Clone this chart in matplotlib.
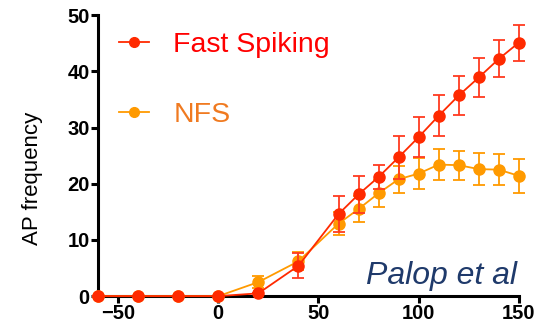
import matplotlib.pyplot as plt
from matplotlib.lines import Line2D

plt.rcParams['font.family'] = ['Liberation Sans', 'DejaVu Sans']

current = [-60, -40, -20, 0, 20, 40, 60, 70, 80, 90, 100, 110, 120, 130, 140, 150]

fs_mean = [0, 0, 0, 0, 0.5, 5.4, 14.6, 18.1, 21.2, 24.7, 28.3, 32.1, 35.7, 38.9, 42.2, 45.1]
fs_err = [0, 0, 0, 0, 0, 2.2, 3.2, 3.3, 2.1, 3.8, 3.6, 3.7, 3.4, 3.5, 3.3, 3.2]

nfs_mean = [0, 0, 0, 0, 2.5, 6.2, 12.9, 15.5, 18.3, 20.8, 21.8, 23.4, 23.3, 22.6, 22.5, 21.4]
nfs_err = [0, 0, 0, 0, 1.1, 1.6, 2.1, 2.3, 2.4, 2.4, 2.7, 2.7, 2.6, 2.9, 2.8, 3.0]

red = '#ff2a00'
orange = '#ff9a00'

fig = plt.figure(figsize=(5.36, 3.35), dpi=100)
ax = fig.add_axes([0.183, 0.116, 0.785, 0.839])

ax.errorbar(current, nfs_mean, yerr=nfs_err, color=orange, ecolor=orange,
            marker='o', markersize=8, linewidth=1.3, elinewidth=1.3,
            capsize=4.5, capthick=1.3, clip_on=False, zorder=3)
ax.errorbar(current, fs_mean, yerr=fs_err, color=red, ecolor='#ff3a20',
            marker='o', markersize=8, linewidth=1.3, elinewidth=1.3,
            capsize=4.5, capthick=1.3, clip_on=False, zorder=4)

ax.set_xlim(-60, 150)
ax.set_ylim(0, 50)
ax.set_xticks([-50, 0, 50, 100, 150])
ax.set_yticks([0, 10, 20, 30, 40, 50])

for s in ['top', 'right']:
    ax.spines[s].set_visible(False)
for s in ['left', 'bottom']:
    ax.spines[s].set_linewidth(2.2)
ax.tick_params(width=2.2, length=5, labelsize=14.5, pad=1)
for lab in ax.get_xticklabels() + ax.get_yticklabels():
    lab.set_fontweight('bold')

ax.set_ylabel('AP frequency', fontsize=16)
ax.yaxis.set_label_coords(-0.13, 0.42)

handles = [Line2D([], [], color=red, marker='o', markersize=7, linewidth=1.3),
           Line2D([], [], color=orange, marker='o', markersize=7, linewidth=1.3)]
ax.legend(handles=handles, labels=['Fast Spiking', 'NFS'], loc='upper left',
          bbox_to_anchor=(0.05, 0.94), frameon=False, fontsize=20.5,
          labelspacing=1.55, handlelength=1.05, handletextpad=0.85,
          borderpad=0, borderaxespad=0, labelcolor=['#ff0000', '#f07a20'])

ax.text(0.995, 0.02, 'Palop et al', transform=ax.transAxes, ha='right', va='bottom',
        fontsize=23, style='italic', color='#1f3a6b')

fig.savefig('out.png', dpi=100)
